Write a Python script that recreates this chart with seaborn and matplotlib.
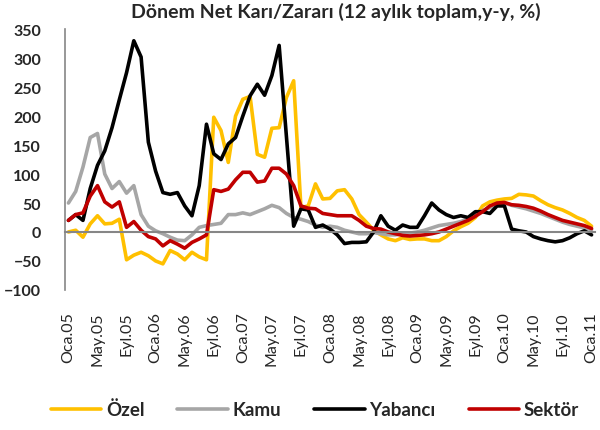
import numpy as np
import pandas as pd
import matplotlib
matplotlib.use("Agg")
import matplotlib.pyplot as plt
import seaborn as sns

# monthly data, Oca.05 .. Oca.11
month_abbr = ["Oca", "Şub", "Mar", "Nis", "May", "Haz",
              "Tem", "Ağu", "Eyl", "Eki", "Kas", "Ara"]
months = [f"{month_abbr[m % 12]}.{5 + m // 12:02d}" for m in range(73)]

ozel = [0, 3, -9, 14, 28, 14, 15, 22, -48, -40,
        -35, -41, -50, -55, -32, -38, -48, -35, -43, -48,
        198, 175, 120, 200, 229, 234, 134, 129, 179, 180,
        232, 261, 42, 45, 83, 57, 58, 71, 73, 57,
        30, 17, 3, -5, -12, -15, -10, -13, -12, -12,
        -15, -15, -8, 2, 9, 15, 25, 45, 52, 55,
        57, 58, 65, 64, 62, 54, 47, 42, 38, 32,
        25, 20, 10]
kamu = [50, 70, 112, 163, 170, 100, 75, 87, 67, 80,
        30, 10, 2, -3, -9, -14, -15, -5, 8, 11,
        13, 15, 30, 30, 33, 30, 35, 40, 46, 42,
        32, 25, 22, 18, 12, 8, 10, 8, 3, 0,
        -3, -3, -1, -3, -5, -5, -3, -2, 0, 3,
        7, 11, 13, 15, 18, 23, 30, 37, 42, 48,
        50, 46, 43, 40, 36, 32, 27, 22, 17, 13,
        10, 7, 4]
yabanci = [20, 30, 20, 75, 115, 140, 180, 228, 275, 330,
           302, 155, 105, 68, 65, 68, 45, 28, 80, 186,
           135, 125, 152, 163, 200, 235, 255, 236, 270, 322,
           165, 10, 40, 38, 8, 12, 5, -5, -20, -18,
           -18, -17, 0, 28, 10, 3, 12, 8, 8, 28,
           50, 38, 30, 25, 28, 25, 35, 35, 32, 45,
           45, 5, 2, 0, -8, -12, -15, -17, -15, -10,
           -3, 2, -5]
sektor = [20, 30, 33, 62, 80, 52, 43, 52, 8, 18,
          3, -8, -12, -24, -15, -21, -28, -18, -12, -5,
          73, 70, 74, 90, 103, 103, 86, 88, 110, 110,
          100, 80, 45, 41, 40, 32, 30, 28, 28, 28,
          20, 10, 6, 5, 0, -3, -6, -7, -6, -5,
          -3, 0, 5, 10, 15, 20, 27, 35, 45, 50,
          51, 47, 46, 44, 41, 36, 30, 25, 20, 17,
          14, 11, 6]

series_names = ["Özel", "Kamu", "Yabancı", "Sektör"]
colors = ["#FFC000", "#A6A6A6", "#000000", "#C00000"]
title = "Dönem Net Karı/Zararı (12 aylık toplam,y-y, %)"

df = pd.DataFrame({"idx": np.arange(len(months)), "Özel": ozel, "Kamu": kamu,
                   "Yabancı": yabanci, "Sektör": sektor})
long_df = df.melt(id_vars="idx", var_name="seri", value_name="deger")

sns.set_theme(style="white")
plt.rcParams["font.family"] = ["Lato", "DejaVu Sans"]

fig, ax = plt.subplots(figsize=(6, 4.31), dpi=100)
fig.subplots_adjust(left=0.108, right=0.992, bottom=0.325, top=0.930)

sns.lineplot(data=long_df, x="idx", y="deger", hue="seri", hue_order=series_names,
             palette=colors, linewidth=2.6, ax=ax, legend=False)

ax.set_xlim(-0.5, len(months) - 0.5)
ax.set_ylim(-100, 350)
ax.set_yticks(range(-100, 351, 50))
ax.set_xlabel("")
ax.set_ylabel("")

grey = "#868686"
for s in ["top", "right"]:
    ax.spines[s].set_visible(False)
ax.spines["left"].set_color(grey)
ax.spines["bottom"].set_color(grey)
ax.spines["bottom"].set_position(("data", 0))
ax.spines["left"].set_linewidth(1.2)
ax.spines["bottom"].set_linewidth(1.5)

tick_pos = list(range(0, len(months), 4))
ax.set_xticks(tick_pos)
ax.set_xticklabels([months[i] for i in tick_pos], rotation=90, fontsize=11.5)
ax.set_xticks(np.arange(3.5, len(months), 4), minor=True)
ax.tick_params(axis="x", which="major", length=0, pad=57)
ax.tick_params(axis="x", which="minor", length=4, width=1.2, color=grey, direction="out")
ax.tick_params(axis="y", length=4, width=1.2, color=grey, direction="out", pad=13,
               labelsize=11.5)
for lab in ax.get_yticklabels():
    lab.set_fontweight("bold")

fig.text(0.56, 0.972, title, ha="center", va="center", fontsize=14, fontweight="bold")

handles = [plt.Line2D([], [], color=c, linewidth=2.6) for c in colors]
fig.legend(handles, series_names, loc="center", bbox_to_anchor=(0.525, 0.048), ncol=4,
           frameon=False, handlelength=2.7, handletextpad=0.25, columnspacing=1.75,
           prop={"weight": "bold", "size": 13.5})

fig.savefig("out.png", dpi=100)
